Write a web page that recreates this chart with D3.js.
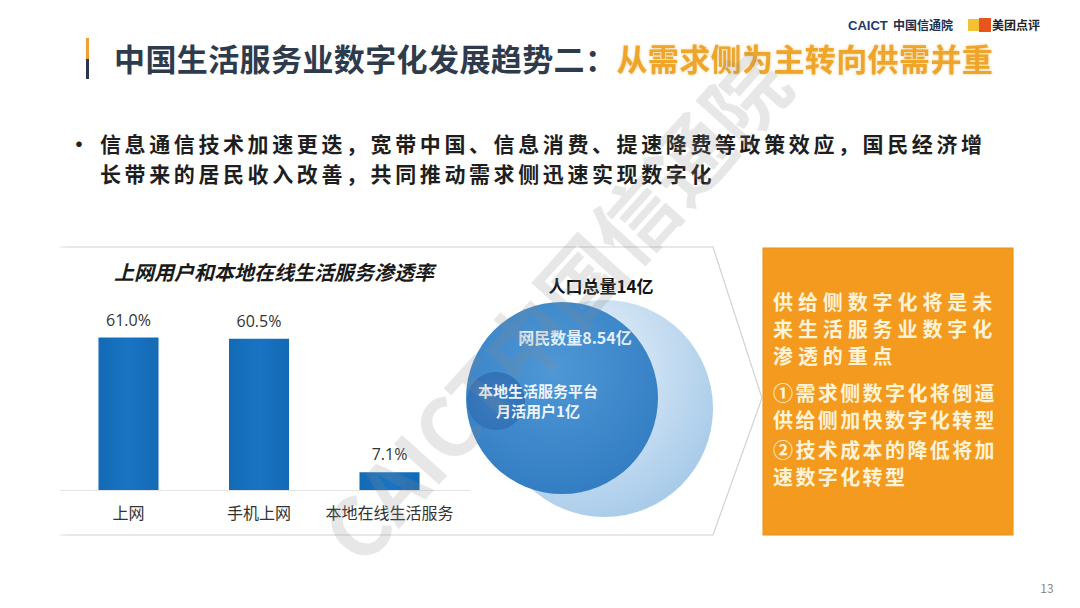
<!DOCTYPE html>
<html><head><meta charset="utf-8">
<script src="https://cdn.jsdelivr.net/npm/d3@7/dist/d3.min.js"></script>
<style>
html,body{margin:0;padding:0;background:#fff;}
svg{display:block;font-family:"Noto Sans CJK SC","Noto Sans",sans-serif;}
</style></head>
<body>
<svg id="c" width="1080" height="608"></svg>
<script>
// ---- data ----
const categories = ["上网", "手机上网", "本地在线生活服务"];
const penetration = [61.0, 60.5, 7.1];
const valueLabels = ["61.0%", "60.5%", "7.1%"];
const circleNames = ["人口总量14亿", "网民数量8.54亿", "本地生活服务平台|月活用户1亿"];
const circleValues = [14, 8.54, 1];
const titleMain = "中国生活服务业数字化发展趋势二：";
const titleHighlight = "从需求侧为主转向供需并重";
const bulletLines = ["信息通信技术加速更迭，宽带中国、信息消费、提速降费等政策效应，国民经济增",
                     "长带来的居民收入改善，共同推动需求侧迅速实现数字化"];
const chartTitle = "上网用户和本地在线生活服务渗透率";
const boxLinesA = ["供给侧数字化将是未", "来生活服务业数字化", "渗透的重点"];
const boxLinesB = ["①需求侧数字化将倒逼", "供给侧加快数字化转型", "②技术成本的降低将加", "速数字化转型"];
const watermarkText = "CAICT中国信通院";

const svg = d3.select("#c");
const defs = svg.append("defs");

// gradients
const gOuter = defs.append("radialGradient").attr("id","gOuter").attr("cx","35%").attr("cy","30%").attr("r","80%");
gOuter.append("stop").attr("offset","0%").attr("stop-color","#eef5fc");
gOuter.append("stop").attr("offset","100%").attr("stop-color","#a3c8e8");
const gMid = defs.append("radialGradient").attr("id","gMid").attr("cx","45%").attr("cy","35%").attr("r","75%");
gMid.append("stop").attr("offset","0%").attr("stop-color","#4f98d6");
gMid.append("stop").attr("offset","100%").attr("stop-color","#2f79c0");
const gSmall = defs.append("radialGradient").attr("id","gSmall").attr("cx","50%").attr("cy","50%").attr("r","60%");
gSmall.append("stop").attr("offset","0%").attr("stop-color","#3a7cc2");
gSmall.append("stop").attr("offset","100%").attr("stop-color","#3170b4");
const gBar = defs.append("linearGradient").attr("id","gBar").attr("x1","0").attr("x2","1");
gBar.append("stop").attr("offset","0%").attr("stop-color","#136ab5");
gBar.append("stop").attr("offset","50%").attr("stop-color","#1a74c3");
gBar.append("stop").attr("offset","100%").attr("stop-color","#136ab5");
const glow = defs.append("filter").attr("id","glow").attr("x","-5%").attr("y","-20%").attr("width","110%").attr("height","140%");
glow.append("feGaussianBlur").attr("in","SourceAlpha").attr("stdDeviation","1.5").attr("result","b");
glow.append("feFlood").attr("flood-color","#e0b050").attr("flood-opacity","0.6");
glow.append("feComposite").attr("in2","b").attr("operator","in").attr("result","s");
const gm = glow.append("feMerge"); gm.append("feMergeNode").attr("in","s"); gm.append("feMergeNode").attr("in","SourceGraphic");

// ---- header ----
svg.append("rect").attr("x",86).attr("y",38).attr("width",3).attr("height",21).attr("fill","#f0a030");
svg.append("rect").attr("x",86).attr("y",59).attr("width",3).attr("height",20).attr("fill","#2a3550");
const t = svg.append("text").attr("x",114).attr("y",71).attr("font-size",31).attr("font-weight",700)
  .attr("letter-spacing",0.4);
t.append("tspan").attr("fill","#2e3b4c").text(titleMain);
t.append("tspan").attr("fill","#efa52a").attr("filter","url(#glow)").text(titleHighlight);

// logos
svg.append("text").attr("x",848).attr("y",30).attr("font-size",13).attr("font-weight",700)
  .attr("fill","#1d3a6e").attr("font-family","Liberation Sans, sans-serif").text("CAICT");
svg.append("text").attr("x",893).attr("y",30).attr("font-size",12).attr("font-weight",700).attr("fill","#1d2d4a").text("中国信通院");
svg.append("rect").attr("x",968).attr("y",19).attr("width",11).attr("height",12).attr("fill","#f2c230");
svg.append("rect").attr("x",979).attr("y",18).attr("width",12).attr("height",14).attr("fill","#e8541e");
svg.append("text").attr("x",992).attr("y",30).attr("font-size",12).attr("font-weight",700).attr("fill","#222").text("美团点评");

// bullet
svg.append("text").attr("x",68).attr("y",152).attr("font-size",22).attr("font-weight",700).attr("fill","#222").text("•");
bulletLines.forEach((l,i)=>{
  svg.append("text").attr("x",100).attr("y",152+i*30).attr("font-size",21).attr("font-weight",700)
    .attr("letter-spacing",3.6).attr("fill","#1e1e1e").text(l);
});

// ---- panel ----
svg.append("path").attr("d","M60,247 L713,247 L762,398 L713,535 L60,535")
  .attr("fill","#fff").attr("stroke","#d2d2d2").attr("stroke-width",1.2);
const gFade = defs.append("linearGradient").attr("id","gFade").attr("x1","0").attr("x2","1");
gFade.append("stop").attr("offset","0%").attr("stop-color","#fff").attr("stop-opacity",1);
gFade.append("stop").attr("offset","100%").attr("stop-color","#fff").attr("stop-opacity",0);
svg.append("rect").attr("x",55).attr("y",244).attr("width",12).attr("height",294).attr("fill","url(#gFade)");

// ---- bar chart ----
const baseY = 490;
const x = d3.scaleBand().domain(categories).range([28, 490]).paddingInner(0.54).paddingOuter(0.54);
const y = d3.scaleLinear().domain([0, 100]).range([baseY, baseY - 250]);

svg.append("text").attr("x",274).attr("y",280).attr("text-anchor","middle").attr("font-size",20)
  .attr("font-weight",700).attr("font-style","italic").attr("fill","#1a1a1a").text(chartTitle);

svg.append("line").attr("x1",60).attr("x2",470).attr("y1",baseY+0.5).attr("y2",baseY+0.5)
  .attr("stroke","#e4e4e4").attr("stroke-width",1);

svg.selectAll("rect.bar").data(penetration).join("rect").attr("class","bar")
  .attr("x",(d,i)=>x(categories[i])).attr("width",x.bandwidth())
  .attr("y",d=>y(d)).attr("height",d=>baseY-y(d)).attr("fill","url(#gBar)");

svg.selectAll("text.vl").data(penetration).join("text").attr("class","vl")
  .attr("x",(d,i)=>x(categories[i])+x.bandwidth()/2).attr("y",d=>y(d)-12)
  .attr("text-anchor","middle").attr("font-size",16).attr("fill","#333")
  .attr("font-family","Open Sans, Noto Sans, sans-serif")
  .text((d,i)=>valueLabels[i]);

const xAxis = svg.append("g").attr("transform",`translate(0,${baseY})`)
  .call(d3.axisBottom(x).tickSize(0).tickPadding(18));
xAxis.select(".domain").remove();
xAxis.selectAll("text").attr("font-size",16).attr("fill","#333")
  .attr("font-family","Noto Sans CJK SC, sans-serif");

// ---- circles ----
const r = d3.scaleLinear().domain([1, 8.54, 14]).range([29, 96, 108.5]);
const circleCenters = [[604.5,408.5],[562,398],[496,401]];
const fills = ["url(#gOuter)","url(#gMid)","url(#gSmall)"];
svg.selectAll("circle.ven").data(circleValues).join("circle").attr("class","ven")
  .attr("cx",(d,i)=>circleCenters[i][0]).attr("cy",(d,i)=>circleCenters[i][1])
  .attr("r",d=>r(d)).attr("fill",(d,i)=>fills[i]);

svg.append("text").attr("x",601).attr("y",293).attr("text-anchor","middle").attr("font-size",17)
  .attr("font-weight",700).attr("fill","#111").text(circleNames[0]);
svg.append("text").attr("x",575).attr("y",344).attr("text-anchor","middle").attr("font-size",16)
  .attr("font-weight",700).attr("fill","#e4eef8").text(circleNames[1]);
circleNames[2].split("|").forEach((l,i)=>{
  svg.append("text").attr("x",538).attr("y",397+i*20).attr("text-anchor","middle").attr("font-size",15)
    .attr("font-weight",700).attr("fill","#eef4fb").text(l);
});

// ---- watermark (one text per glyph along a diagonal) ----
const wmSize = 82, wmAngle = -48, wmCx = 553, wmCy = 305;
const probe = svg.append("text").attr("font-size",wmSize).attr("font-weight",700)
  .attr("font-family","Noto Sans CJK SC, sans-serif").text(watermarkText);
const chars = Array.from(watermarkText);
const starts = chars.map((c,i)=>probe.node().getStartPositionOfChar(i).x);
const ends = chars.map((c,i)=>probe.node().getEndPositionOfChar(i).x);
const total = ends[ends.length-1] - starts[0];
probe.remove();
const wm = svg.append("g").attr("transform",`translate(${wmCx},${wmCy}) rotate(${wmAngle})`)
  .attr("opacity",0.2);
chars.forEach((c,i)=>{
  wm.append("text").attr("x",starts[i]-total/2).attr("y",0).attr("dominant-baseline","central")
    .attr("font-size",wmSize).attr("font-weight",700).attr("fill","#8a8a8a")
    .attr("font-family","Noto Sans CJK SC, sans-serif").text(c);
});

// ---- orange box ----
svg.append("rect").attr("x",763).attr("y",248).attr("width",250).attr("height",287)
  .attr("fill","#f39a1f").attr("stroke","#e8901a").attr("stroke-width",1);
boxLinesA.forEach((l,i)=>{
  svg.append("text").attr("x",773).attr("y",310+i*27).attr("font-size",20).attr("font-weight",700)
    .attr("letter-spacing",4.9).attr("fill","#fff3d8").text(l);
});
boxLinesB.forEach((l,i)=>{
  svg.append("text").attr("x",773).attr("y",401+i*27+(i>=2?3:0)).attr("font-size",20).attr("font-weight",700)
    .attr("letter-spacing",2.4).attr("fill","#fff3d8").text(l);
});

// page number
svg.append("text").attr("x",1047).attr("y",593).attr("text-anchor","middle").attr("font-size",12)
  .attr("fill","#888").text("13");
</script>
</body></html>
